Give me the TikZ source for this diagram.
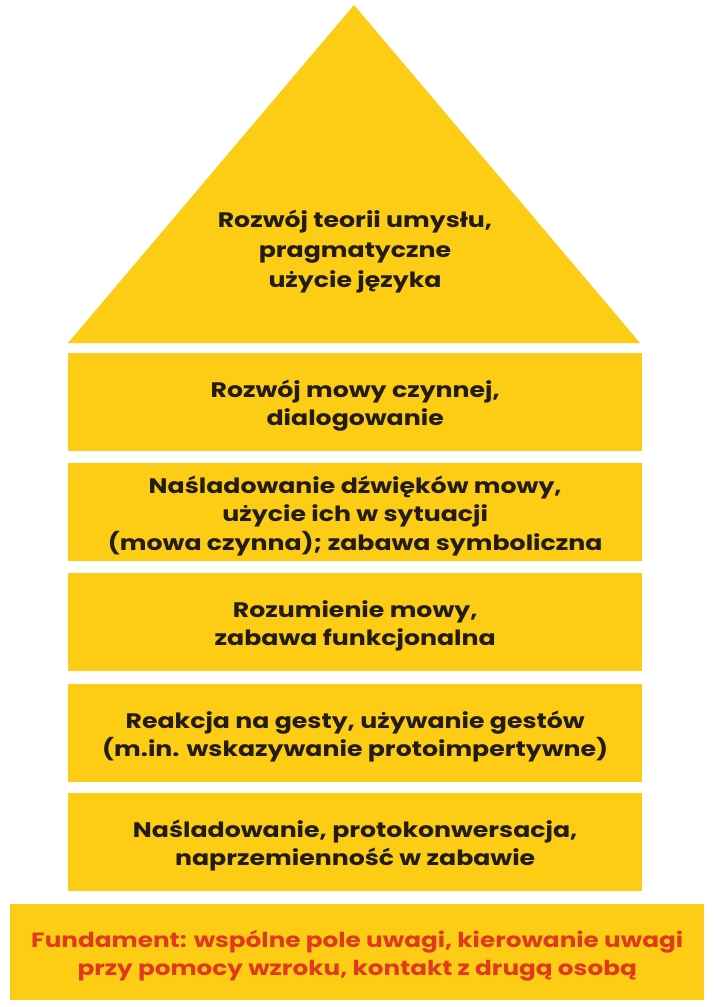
\documentclass[tikz,border=0pt]{standalone}
\usepackage{fontspec}
\setmainfont{Poppins}[FakeStretch=1.2]
\definecolor{gold}{HTML}{FDCC14}
\definecolor{ink}{HTML}{221C14}
\definecolor{redtxt}{HTML}{E03A1E}
\tikzset{
  layer/.style={fill=gold, draw=none, anchor=north west, inner sep=0pt,
    minimum width=574pt, minimum height=98pt},
  label text/.style={align=center, text=ink, inner sep=0pt, yshift=-3.5pt,
    font=\fontsize{21}{28.5}\selectfont\bfseries},
}
\begin{document}
\begin{tikzpicture}[x=1pt,y=-1pt]
\useasboundingbox (0,0) rectangle (720,1007);
\fill[white] (0,0) rectangle (720,1007);
\fill[gold] (354,5) -- (640,343) -- (68,343) -- cycle;
\node[label text, yshift=3.5pt, font=\fontsize{21}{30}\selectfont\bfseries] (roof) at (355,252)
  {Rozwój teorii umysłu,\\pragmatyczne\\użycie języka};
\node[layer] (l1) at (68,353) {};
\node[layer] (l2) at (68,463) {};
\node[layer] (l3) at (68,573) {};
\node[layer] (l4) at (68,684) {};
\node[layer] (l5) at (68,793) {};
\node[layer, minimum width=694pt, minimum height=96pt] (base) at (10,904) {};
\node[label text] (t1) at (l1.center) {Rozwój mowy czynnej,\\dialogowanie};
\node[label text] (t2) at (l2.center) {Naśladowanie dźwięków mowy,\\użycie ich w sytuacji\\(mowa czynna); zabawa symboliczna};
\node[label text] (t3) at (l3.center) {Rozumienie mowy,\\zabawa funkcjonalna};
\node[label text] (t4) at (l4.center) {Reakcja na gesty, używanie gestów\\(m.in. wskazywanie protoimpertywne)};
\node[label text] (t5) at (l5.center) {Naśladowanie, protokonwersacja,\\naprzemienność w zabawie};
\node[label text, text=redtxt, font=\fontsize{20.6}{28.5}\selectfont\bfseries] (tb) at (base.center)
  {Fundament: wspólne pole uwagi, kierowanie uwagi\\przy pomocy wzroku, kontakt z drugą osobą};
\end{tikzpicture}
\end{document}
